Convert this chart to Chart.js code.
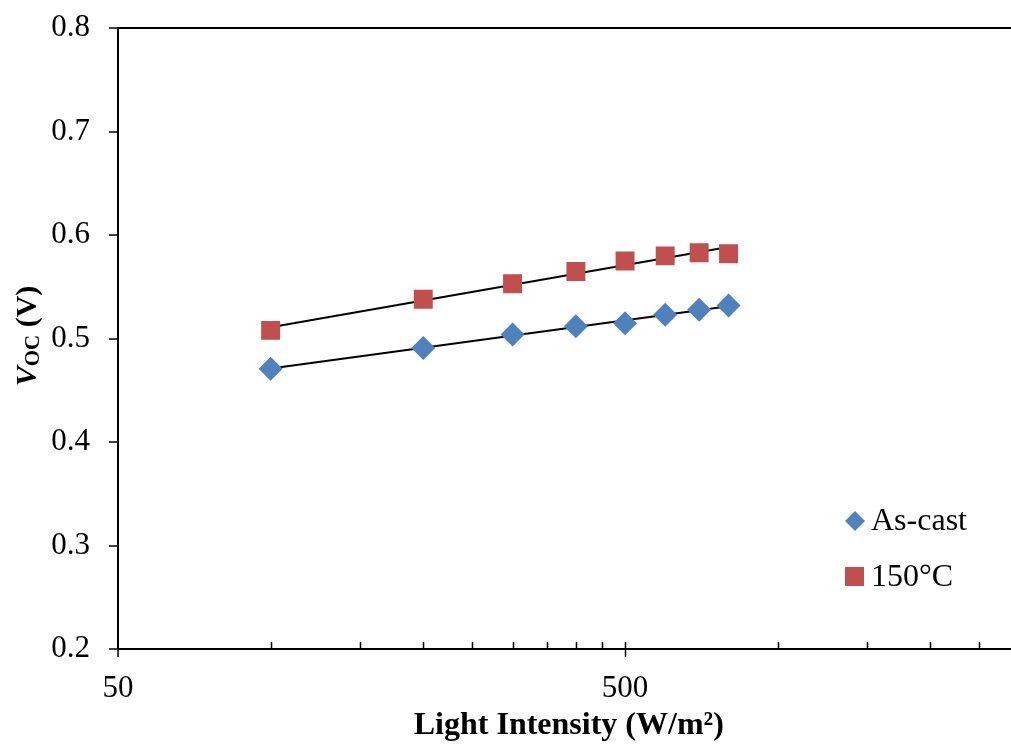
<!DOCTYPE html>
<html>
<head>
<meta charset="utf-8">
<script src="https://cdn.jsdelivr.net/npm/chart.js@4.4.1/dist/chart.umd.min.js"></script>
<style>
  html, body { margin: 0; padding: 0; background: #fff; overflow: hidden; }
  #wrap { width: 1033px; height: 749px; }
</style>
</head>
<body>
<div id="wrap"><canvas id="vocChart" width="1033" height="749"></canvas></div>
<script>
// light intensity (W/m²) and Voc (V)
const intensity = [100, 200, 300, 400, 500, 600, 700, 800];
const asCast    = [0.471, 0.491, 0.504, 0.512, 0.515, 0.523, 0.528, 0.532];
const annealed  = [0.508, 0.538, 0.553, 0.565, 0.575, 0.580, 0.583, 0.582];

const seriesNames = ['As-cast', '150°C'];
const seriesColors = ['#4F81BD', '#C0504D'];

const xTickValues = [50, 100, 150, 200, 250, 300, 350, 400, 450, 500, 1000, 1500, 2000, 2500, 3000];
const xMajorLabels = [50, 500];
const yTickLabels = ['0.2', '0.3', '0.4', '0.5', '0.6', '0.7', '0.8'];

const serif = "'Times New Roman', 'Liberation Serif', serif";

// logarithmic trendline (y = a*ln(x) + b), like Excel
function logFit(xs, ys) {
  const lx = xs.map(Math.log);
  const n = xs.length;
  const mx = lx.reduce((s, v) => s + v, 0) / n;
  const my = ys.reduce((s, v) => s + v, 0) / n;
  let sxy = 0, sxx = 0;
  for (let i = 0; i < n; i++) {
    sxy += (lx[i] - mx) * (ys[i] - my);
    sxx += (lx[i] - mx) * (lx[i] - mx);
  }
  const a = sxy / sxx, b = my - a * mx;
  const x0 = xs[0], x1 = xs[n - 1];
  return [{ x: x0, y: a * Math.log(x0) + b }, { x: x1, y: a * Math.log(x1) + b }];
}

const pts = (ys) => intensity.map((x, i) => ({ x: x, y: ys[i] }));

// x-axis tick marks: minor inside, major crossing the axis
const xTickMarks = {
  id: 'xTickMarks',
  afterDraw(chart) {
    const { ctx, chartArea, scales } = chart;
    const xs = scales.x;
    ctx.save();
    ctx.strokeStyle = '#000';
    ctx.lineWidth = 1.5;
    xTickValues.forEach(v => {
      const px = Math.round(xs.getPixelForValue(v)) + 0.5;
      if (px < chartArea.left + 2) return;
      const major = xMajorLabels.includes(v);
      ctx.beginPath();
      ctx.moveTo(px, chartArea.bottom - 7);
      ctx.lineTo(px, chartArea.bottom + (major ? 8 : 0));
      ctx.stroke();
    });
    // major tick at the origin pokes below the axis
    ctx.beginPath();
    ctx.moveTo(chartArea.left, chartArea.bottom);
    ctx.lineTo(chartArea.left, chartArea.bottom + 8);
    ctx.stroke();
    ctx.restore();
  }
};

// y-axis title with subscript
const yTitle = {
  id: 'yTitle',
  afterDraw(chart) {
    const { ctx } = chart;
    const big = 'bold italic 30px ' + serif;
    const sub = 'bold 21px ' + serif;
    const rest = 'bold 30px ' + serif;
    ctx.save();
    ctx.fillStyle = '#000';
    ctx.font = big; const w1 = ctx.measureText('V').width;
    ctx.font = sub; const w2 = ctx.measureText('OC').width;
    ctx.font = rest; const w3 = ctx.measureText(' (V)').width;
    const total = w1 + w2 + w3;
    ctx.translate(36, 336);
    ctx.rotate(-Math.PI / 2);
    ctx.textBaseline = 'alphabetic';
    let x = -total / 2;
    ctx.font = big; ctx.fillText('V', x, 0); x += w1;
    ctx.font = sub; ctx.fillText('OC', x, 3); x += w2;
    ctx.font = rest; ctx.fillText(' (V)', x, 0);
    ctx.restore();
  }
};

// legend drawn inside the plot
const sideLegend = {
  id: 'sideLegend',
  afterDraw(chart) {
    const { ctx } = chart;
    ctx.save();
    ctx.font = '32px ' + serif;
    ctx.textBaseline = 'alphabetic';
    // diamond
    ctx.fillStyle = seriesColors[0];
    ctx.beginPath();
    ctx.moveTo(855, 511); ctx.lineTo(865, 521); ctx.lineTo(855, 531); ctx.lineTo(845, 521);
    ctx.closePath(); ctx.fill();
    // square
    ctx.fillStyle = seriesColors[1];
    ctx.fillRect(845, 567, 19, 19);
    ctx.fillStyle = '#000';
    ctx.fillText(seriesNames[0], 871, 530);
    ctx.fillText(seriesNames[1], 871, 586);
    ctx.restore();
  }
};

new Chart(document.getElementById('vocChart'), {
  type: 'scatter',
  data: {
    datasets: [
      {
        label: seriesNames[0] + ' fit',
        data: logFit(intensity, asCast),
        showLine: true, borderColor: '#000', borderWidth: 2,
        pointRadius: 0, fill: false, order: 3
      },
      {
        label: seriesNames[1] + ' fit',
        data: logFit(intensity, annealed),
        showLine: true, borderColor: '#000', borderWidth: 2,
        pointRadius: 0, fill: false, order: 3
      },
      {
        label: seriesNames[0],
        data: pts(asCast),
        pointStyle: 'rectRot', pointRadius: 12, pointHoverRadius: 12,
        backgroundColor: seriesColors[0], borderColor: seriesColors[0], borderWidth: 0,
        order: 1
      },
      {
        label: seriesNames[1],
        data: pts(annealed),
        pointStyle: 'rect', pointRadius: 13.4, pointHoverRadius: 13.4,
        backgroundColor: seriesColors[1], borderColor: seriesColors[1], borderWidth: 0,
        order: 2
      }
    ]
  },
  options: {
    responsive: false,
    animation: false,
    devicePixelRatio: 1,
    layout: { padding: { top: 26, right: 10, left: 0, bottom: 0 } },
    plugins: { legend: { display: false }, tooltip: { enabled: false } },
    scales: {
      x: {
        type: 'logarithmic',
        min: 50, max: 3000,
        afterBuildTicks: (s) => { s.ticks = xTickValues.map(v => ({ value: v })); },
        afterFit: (s) => { s.height = 100; },
        grid: { display: false },
        border: { display: true, color: '#000', width: 2 },
        ticks: {
          autoSkip: false, maxRotation: 0, padding: 13,
          color: '#000', font: { family: serif, size: 31 },
          callback: (v) => xMajorLabels.includes(v) ? String(v) : ''
        },
        title: {
          display: true, text: 'Light Intensity (W/m²)', color: '#000',
          font: { family: serif, size: 32, weight: 'bold' },
          padding: { top: 0, bottom: 4 }
        }
      },
      y: {
        min: 0.2, max: 0.8,
        afterBuildTicks: (s) => { s.ticks = yTickLabels.map(t => ({ value: parseFloat(t) })); },
        afterFit: (s) => { s.width = 118; },
        grid: {
          drawTicks: true, tickLength: 9, tickColor: '#000', tickWidth: 1.5,
          color: (c) => (c.tick && Math.abs(c.tick.value - 0.8) < 1e-9) ? '#000' : 'rgba(0,0,0,0)',
          lineWidth: (c) => (c.tick && Math.abs(c.tick.value - 0.8) < 1e-9) ? 2 : 0
        },
        border: { display: true, color: '#000', width: 2 },
        ticks: {
          padding: 19, color: '#000',
          font: { family: serif, size: 31, lineHeight: 0.6 },
          callback: (v) => Number(v).toFixed(1)
        }
      }
    }
  },
  plugins: [xTickMarks, yTitle, sideLegend]
});
</script>
</body>
</html>
